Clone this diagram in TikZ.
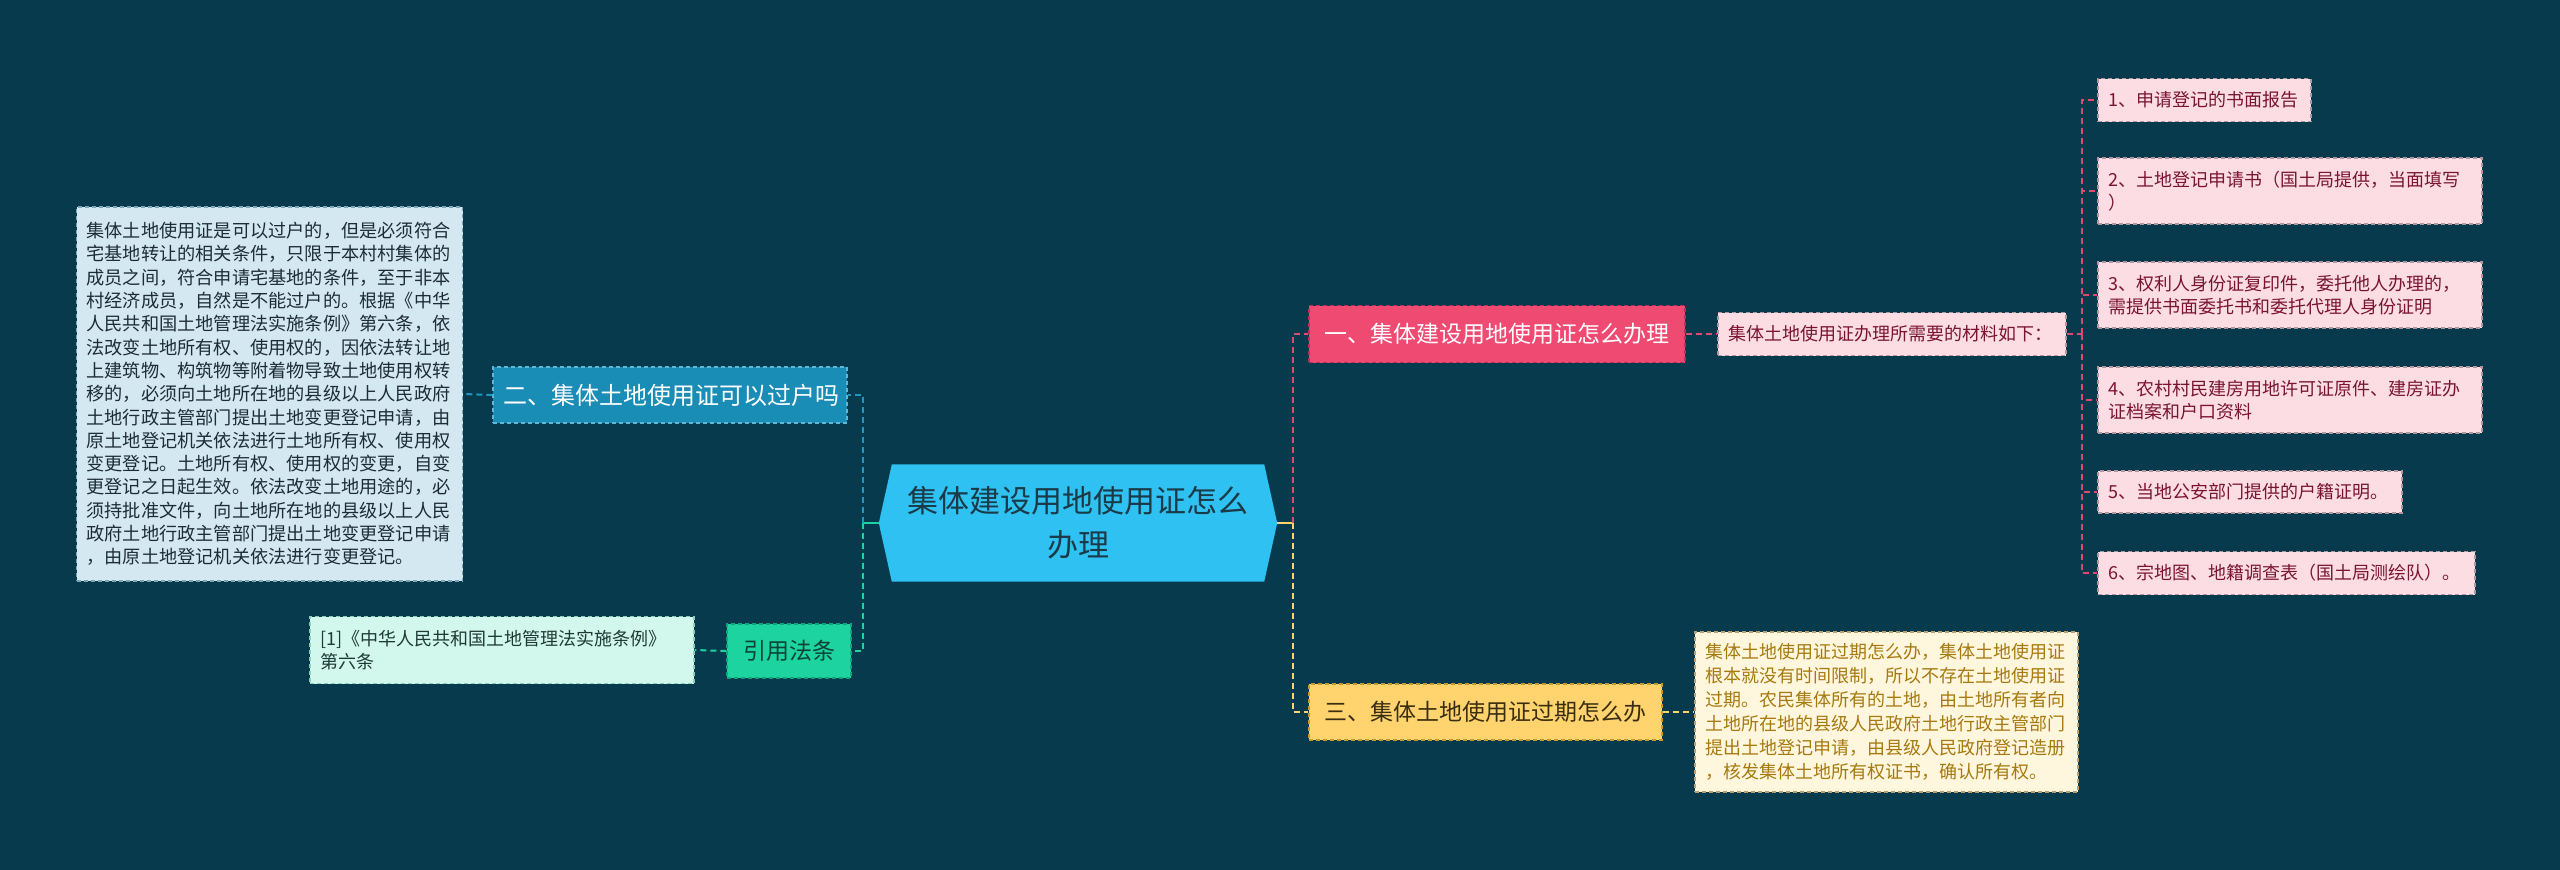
\documentclass[tikz,border=0pt]{standalone}
\usepackage{fontspec}
\setmainfont{Noto Sans CJK SC}
\usetikzlibrary{backgrounds}
\definecolor{bg}{HTML}{083A4E}
\definecolor{cfill}{HTML}{2FC1F1}
\definecolor{ctext}{HTML}{1B3A48}
\definecolor{bluefill}{HTML}{1A8DB7}
\definecolor{blueline}{HTML}{5CB8D8}
\definecolor{ltfill}{HTML}{D3E8F1}
\definecolor{ltline}{HTML}{7FA6B8}
\definecolor{lttext}{HTML}{1E2C38}
\definecolor{lawfill}{HTML}{1DD4A0}
\definecolor{lawline}{HTML}{0FA57A}
\definecolor{lawtext}{HTML}{0E4238}
\definecolor{reffill}{HTML}{D2F7EC}
\definecolor{refline}{HTML}{8CCDB9}
\definecolor{reftext}{HTML}{1E3A34}
\definecolor{redfill}{HTML}{EE4A72}
\definecolor{redline}{HTML}{B8305A}
\definecolor{pinkfill}{HTML}{FCDDE3}
\definecolor{pinkline}{HTML}{B496A0}
\definecolor{pinktext}{HTML}{7A1434}
\definecolor{yelfill}{HTML}{FFD36E}
\definecolor{yelline}{HTML}{C79A30}
\definecolor{yeltext}{HTML}{3A2E10}
\definecolor{creamfill}{HTML}{FFF6DE}
\definecolor{creamline}{HTML}{B8A070}
\definecolor{creamtext}{HTML}{A67A0E}
\definecolor{cblue}{HTML}{2196C0}
\definecolor{cgreen}{HTML}{1DD4A0}
\definecolor{cpink}{HTML}{E0486F}
\definecolor{cyel}{HTML}{FFD36E}
\tikzset{
  box/.style={draw, dash pattern=on 4pt off 3pt, line width=1.3pt, inner xsep=10pt, inner ysep=0pt, align=left},
  branch/.style={box, align=center, minimum height=56pt},
  small/.style={font=\fontsize{18}{23}\selectfont},
  pinkbox/.style={box, small, fill=pinkfill, draw=pinkline, text=pinktext},
  conn/.style={line width=2pt, dash pattern=on 6pt off 4pt},
  solidconn/.style={line width=2pt},
}
\begin{document}
\begin{tikzpicture}[x=1pt,y=-1pt]
\useasboundingbox (0,0) rectangle (2560,870);

% center
\node[text=ctext, font=\fontsize{31}{44}\selectfont, align=center, minimum width=398pt, minimum height=117pt, inner sep=0pt] (c) at (1078,523) {集体建设用地使用证怎么\\办理};

% left side
\node[branch, fill=bluefill, draw=blueline, text=white, text width=334pt, font=\fontsize{24}{30}\selectfont] (b2) at (670,395) {二、集体土地使用证可以过户吗};
\node[box, fill=ltfill, draw=ltline, text=lttext, text width=366pt, minimum height=374pt, font=\fontsize{18.2}{23.3}\selectfont] (t2) at (269.5,394) {集体土地使用证是可以过户的，但是必须符合\\宅基地转让的相关条件，只限于本村村集体的\\成员之间，符合申请宅基地的条件，至于非本\\村经济成员，自然是不能过户的。根据《中华\\人民共和国土地管理法实施条例》第六条，依\\法改变土地所有权、使用权的，因依法转让地\\上建筑物、构筑物等附着物导致土地使用权转\\移的，必须向土地所在地的县级以上人民政府\\土地行政主管部门提出土地变更登记申请，由\\原土地登记机关依法进行土地所有权、使用权\\变更登记。土地所有权、使用权的变更，自变\\更登记之日起生效。依法改变土地用途的，必\\须持批准文件，向土地所在地的县级以上人民\\政府土地行政主管部门提出土地变更登记申请\\，由原土地登记机关依法进行变更登记。};
\node[branch, fill=lawfill, draw=lawline, text=lawtext, text width=104pt, minimum height=54pt, font=\fontsize{23}{28}\selectfont] (law) at (789,651) {引用法条};
\node[box, small, fill=reffill, draw=refline, text=reftext, text width=364pt, minimum height=67pt] (ref) at (502,650) {[1]《中华人民共和国土地管理法实施条例》\\第六条};

% right side
\node[branch, fill=redfill, draw=redline, text=white, text width=356pt, minimum height=57pt, font=\fontsize{23}{28}\selectfont] (b1) at (1497,334) {一、集体建设用地使用证怎么办理};
\node[pinkbox, text width=328pt, minimum height=43pt] (mat) at (1892,334) {集体土地使用证办理所需要的材料如下：};
\node[pinkbox, text width=193pt, minimum height=43pt] (p1) at (2204.5,100) {1、申请登记的书面报告};
\node[pinkbox, text width=364pt, minimum height=66pt] (p2) at (2290,191) {2、土地登记申请书（国土局提供，当面填写\\）};
\node[pinkbox, text width=364pt, minimum height=66pt] (p3) at (2290,295) {3、权利人身份证复印件，委托他人办理的，\\需提供书面委托书和委托代理人身份证明};
\node[pinkbox, text width=364pt, minimum height=66pt] (p4) at (2290,400) {4、农村村民建房用地许可证原件、建房证办\\证档案和户口资料};
\node[pinkbox, text width=284pt, minimum height=42pt] (p5) at (2250,492) {5、当地公安部门提供的户籍证明。};
\node[pinkbox, text width=357pt, minimum height=43pt] (p6) at (2286.5,573) {6、宗地图、地籍调查表（国土局测绘队）。};

\node[branch, fill=yelfill, draw=yelline, text=yeltext, text width=333pt, font=\fontsize{23}{28}\selectfont] (b3) at (1485.5,712) {三、集体土地使用证过期怎么办};
\node[box, fill=creamfill, draw=creamline, text=creamtext, text width=363pt, minimum height=160pt, font=\fontsize{18}{24}\selectfont] (y3) at (1886.5,712) {集体土地使用证过期怎么办，集体土地使用证\\根本就没有时间限制，所以不存在土地使用证\\过期。农民集体所有的土地，由土地所有者向\\土地所在地的县级人民政府土地行政主管部门\\提出土地登记申请，由县级人民政府登记造册\\，核发集体土地所有权证书，确认所有权。};

% junctions
\coordinate (lj) at (863,523);
\coordinate (rj) at (1293,523);
\coordinate (pj) at (2082,334);

% connectors
\draw[solidconn, cgreen] (c.west) -- (lj);
\draw[conn, cblue] (lj) |- (b2.east);
\draw[conn, cgreen] (lj) |- (law.east);
\draw[conn, cblue] (b2.west) -- (t2.east);
\draw[conn, cgreen] (law.west) -- (ref.east);

\draw[solidconn, cyel] (c.east) -- (rj);
\draw[conn, cpink] (rj) |- (b1.west);
\draw[conn, cyel] (rj) |- (b3.west);
\draw[conn, cyel] (b3.east) -- (y3.west);
\draw[conn, cpink] (b1.east) -- (mat.west);
\draw[conn, cpink] (mat.east) -- (pj);
\foreach \n in {p1,p2,p3,p4,p5,p6} \draw[conn, cpink] (pj) |- (\n.west);

\begin{pgfonlayer}{background}
\fill[bg] (0,0) rectangle (2560,870);
\fill[cfill] (c.west) -- ([xshift=13pt]c.north west) -- ([xshift=-13pt]c.north east) -- (c.east) -- ([xshift=-13pt]c.south east) -- ([xshift=13pt]c.south west) -- cycle;
\end{pgfonlayer}
\end{tikzpicture}
\end{document}
